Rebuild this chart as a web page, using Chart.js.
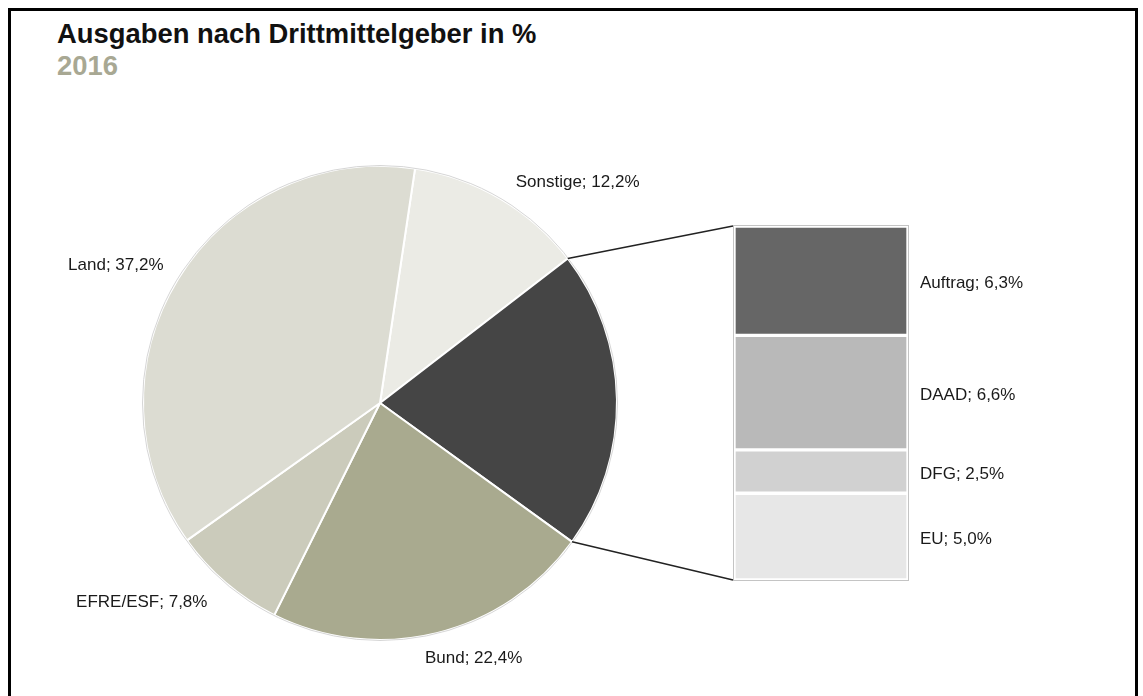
<!DOCTYPE html>
<html>
<head>
<meta charset="utf-8">
<script src="https://cdn.jsdelivr.net/npm/chart.js@4"></script>
<style>
  body { margin: 0; background: #fff; }
  #wrap { position: relative; width: 1143px; height: 696px; overflow: hidden; font-family: "Liberation Sans", Arial, sans-serif; }
  #frame { position: absolute; left: 8px; top: 8px; width: 1130px; height: 800px; border: 3px solid #000; box-sizing: border-box; }
  #title { position: absolute; left: 57px; top: 18px; font-size: 27.4px; font-weight: bold; color: #111; line-height: 32px; }
  #year { position: absolute; left: 57px; top: 50px; font-size: 27.4px; font-weight: bold; color: #a8a893; line-height: 32px; }
  canvas { position: absolute; left: 0; top: 0; }
</style>
</head>
<body>
<div id="wrap">
  <div id="frame"></div>
  <div id="title">Ausgaben nach Drittmittelgeber in %</div>
  <div id="year">2016</div>
  <canvas id="pie" width="1143" height="696"></canvas>
  <canvas id="bar" width="1143" height="696"></canvas>
</div>
<script>
// pie slices, clockwise from the top
var pieNames = ["Sonstige", "Drittmittel", "Bund", "EFRE/ESF", "Land"];
var pieColors = ["#ebebe5", "#454545", "#a9aa8f", "#cbcbbb", "#dcdcd2"];
// breakdown of the dark slice, bottom to top
var barNames = ["EU", "DFG", "DAAD", "Auftrag"];
var barValues = [5.0, 2.5, 6.6, 6.3];
var barColors = ["#e7e7e7", "#d1d1d1", "#b9b9b9", "#666666"];
var splitTotal = barValues.reduce(function (a, b) { return a + b; }, 0);
var pieValues = [12.2, splitTotal, 22.4, 7.8, 37.2];

// label nudges [dx, dy] for the pie labels, null = no label
var labelNudge = [[41, 0], null, [23, 7], [-35, 5], [-13, -4]];

var labelFont = "17px 'Liberation Sans', Arial, sans-serif";

function fmt(v) {
    return v.toFixed(1).replace(".", ",") + "%";
}

var pieLabels = {
    id: "pieLabels",
    afterDatasetsDraw: function (chart) {
        var ctx = chart.ctx;
        var arcs = chart.getDatasetMeta(0).data;
        ctx.save();
        // faint outer rim
        var a0 = arcs[0];
        ctx.beginPath();
        ctx.arc(a0.x, a0.y, a0.outerRadius + 0.5, 0, Math.PI * 2);
        ctx.strokeStyle = "#d6d6d6";
        ctx.lineWidth = 1;
        ctx.stroke();

        ctx.font = labelFont;
        ctx.fillStyle = "#1a1a1a";
        ctx.textAlign = "center";
        ctx.textBaseline = "middle";
        arcs.forEach(function (arc, i) {
            if (!labelNudge[i]) return;
            var mid = (arc.startAngle + arc.endAngle) / 2;
            var dx = Math.cos(mid), dy = Math.sin(mid);
            var r = arc.outerRadius + 10;
            var text = pieNames[i] + "; " + fmt(pieValues[i]);
            var w = ctx.measureText(text).width;
            var cx = arc.x + dx * r + dx * w / 2 + labelNudge[i][0];
            var cy = arc.y + dy * r + dy * 17 / 2 + labelNudge[i][1];
            ctx.fillText(text, cx, cy);
        });
        ctx.restore();
    }
};

var pieChart = new Chart(document.getElementById("pie").getContext("2d"), {
    type: "pie",
    data: {
        labels: pieNames,
        datasets: [
            {
                data: pieValues,
                backgroundColor: pieColors,
                borderColor: "#ffffff",
                borderWidth: 2,
            },
        ],
    },
    options: {
        responsive: false,
        animation: false,
        rotation: 8.5,
        layout: { padding: { left: 142, right: 525, top: 165, bottom: 55 } },
        plugins: {
            legend: { display: false },
            tooltip: { enabled: false },
        },
    },
    plugins: [pieLabels],
});

var barExtras = {
    id: "barExtras",
    afterDatasetsDraw: function (chart) {
        var ctx = chart.ctx;
        var area = chart.chartArea;
        var y = chart.scales.y;
        var top = y.getPixelForValue(splitTotal);
        var bottom = y.getPixelForValue(0);
        ctx.save();
        // thin grey outline round the stack
        ctx.strokeStyle = "#c4c4c4";
        ctx.lineWidth = 1;
        ctx.strokeRect(area.left - 0.5, top - 0.5, area.right - area.left + 1, bottom - top + 1);

        // connector lines from the dark slice to the stack
        var arc = pieChart.getDatasetMeta(0).data[1];
        var R = arc.outerRadius;
        ctx.strokeStyle = "#222";
        ctx.lineWidth = 1.5;
        ctx.beginPath();
        ctx.moveTo(arc.x + R * Math.cos(arc.startAngle), arc.y + R * Math.sin(arc.startAngle));
        ctx.lineTo(area.left - 1, top);
        ctx.moveTo(arc.x + R * Math.cos(arc.endAngle), arc.y + R * Math.sin(arc.endAngle));
        ctx.lineTo(area.left - 1, bottom);
        ctx.stroke();

        // segment labels
        ctx.font = labelFont;
        ctx.fillStyle = "#1a1a1a";
        ctx.textAlign = "left";
        ctx.textBaseline = "middle";
        chart.data.datasets.forEach(function (ds, i) {
            var bar = chart.getDatasetMeta(i).data[0];
            var mid = (bar.y + bar.base) / 2;
            ctx.fillText(barNames[i] + "; " + fmt(barValues[i]), area.right + 12, mid + 3);
        });
        ctx.restore();
    }
};

new Chart(document.getElementById("bar").getContext("2d"), {
    type: "bar",
    data: {
        labels: [""],
        datasets: barNames.map(function (name, i) {
            return {
                label: name,
                data: [barValues[i]],
                backgroundColor: barColors[i],
                borderColor: "#ffffff",
                borderWidth: 2,
                borderSkipped: false,
                barPercentage: 1,
                categoryPercentage: 1,
            };
        }),
    },
    options: {
        responsive: false,
        animation: false,
        layout: { padding: { left: 734, right: 235, top: 226, bottom: 116 } },
        scales: {
            x: { stacked: true, display: false },
            y: { stacked: true, display: false, min: 0, max: splitTotal },
        },
        plugins: {
            legend: { display: false },
            tooltip: { enabled: false },
        },
    },
    plugins: [barExtras],
});
</script>
</body>
</html>
